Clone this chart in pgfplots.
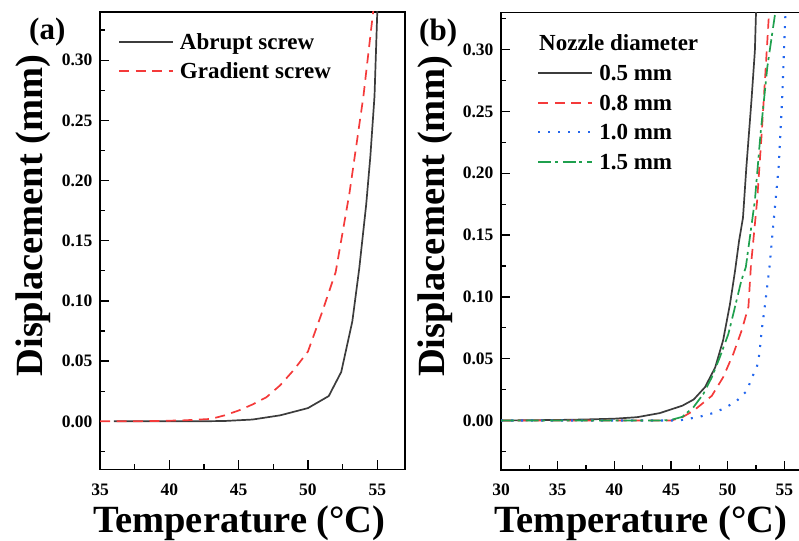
\documentclass[border=0pt]{standalone}
\usepackage{fontspec}
\setmainfont{Liberation Serif}
\usepackage{pgfplots}
\pgfplotsset{compat=1.18}
\definecolor{cblack}{HTML}{3C3C3C}
\definecolor{cred}{HTML}{F43A3A}
\definecolor{cblue}{HTML}{2266EE}
\definecolor{cgreen}{HTML}{1FA04E}

\pgfplotsset{
  myaxis/.style={
    scale only axis,
    height=457.5pt,
    ymin=-0.04,
    axis line style={line width=1.8pt},
    every tick/.style={black, line width=1.3pt},
    major tick length=9pt, minor tick length=5pt,
    tick align=inside, xtick pos=bottom, ytick pos=left,
    tick label style={font=\fontsize{17.5}{18}\selectfont\bfseries},
    /pgf/number format/assume math mode=true,
    ytick={0,0.05,0.10,0.15,0.20,0.25,0.30},
    minor ytick={-0.025,0.025,0.075,0.125,0.175,0.225,0.275,0.325},
    yticklabel style={/pgf/number format/fixed, /pgf/number format/fixed zerofill, /pgf/number format/precision=2, xshift=-4pt},
    xticklabel style={anchor=base, yshift=-25.5pt},
    xlabel={Temperature (°C)},
    ylabel={Displacement (mm)},
    every axis x label/.style={at={(axis description cs:0.457,0)}, anchor=base, yshift=-62.5pt, font=\fontsize{38.5}{40}\selectfont\bfseries},
    every axis y label/.style={at={(axis description cs:0,0.555)}, xshift=-57pt, rotate=90, anchor=base, font=\fontsize{38.5}{40}\selectfont\bfseries},
    legend image code/.code={\draw[#1] (0pt,2pt) -- (54pt,2pt);},
    legend style={draw=none, fill=none, inner sep=0pt, row sep=8.5pt,
      font=\fontsize{23}{24}\selectfont\bfseries,
      nodes={inner sep=0pt, text height=16pt, text depth=5pt},
      /tikz/every odd column/.style={column sep=6pt}},
    legend cell align=left,
  },
  sblack/.style={color=cblack, line width=1.7pt, solid},
  sred/.style={color=cred, line width=1.7pt, dash pattern=on 10pt off 6.5pt},
  sblue/.style={color=cblue, line width=2.1pt, dash pattern=on 2pt off 8pt},
  sgreen/.style={color=cgreen, line width=1.7pt, dash pattern=on 13pt off 3.5pt on 3pt off 5pt},
}

\pgfplotstableread{
x y
36 0
38 0
40 0
42 0
44 0.0003
46 0.0015
48 0.005
50 0.011
51.5 0.021
52.4 0.041
53.2 0.083
53.7 0.127
54.2 0.18
54.5 0.22
54.8 0.27
55.0 0.34
55.05 0.36
}\abrupt

\pgfplotstableread{
x y
35 0
37 0
39 0.0003
41 0.0008
43 0.002
44 0.005
45 0.009
46 0.014
47 0.020
48 0.030
49 0.043
50 0.058
51 0.090
52 0.124
53 0.19
54 0.27
54.7 0.34
54.8 0.355
}\gradient

\pgfplotstableread{
x y
30 0
32 0.0002
34 0.0004
36 0.0006
38 0.001
40 0.0015
42 0.0027
44 0.006
45 0.009
46 0.012
47 0.017
48 0.027
48.9 0.043
49.6 0.065
50.2 0.094
50.65 0.121
51.0 0.145
51.35 0.164
51.65 0.205
52.1 0.259
52.4 0.299
52.5 0.33
52.52 0.34
}\dA

\pgfplotstableread{
x y
30 0
35 0
40 0
45 0
46 0.0027
47 0.008
48.6 0.020
49.6 0.035
50.5 0.054
51.24 0.073
51.83 0.092
52.05 0.125
52.6 0.178
53.0 0.232
53.36 0.286
53.65 0.33
53.7 0.34
}\dB

\pgfplotstableread{
x y
30 0
35 0
40 0
45 0
46 0.0005
47.5 0.003
48.7 0.006
49.8 0.0103
50.8 0.016
51.7 0.024
52.1 0.034
52.57 0.043
52.8 0.054
53.0 0.073
53.3 0.094
53.7 0.125
53.95 0.151
54.5 0.205
54.8 0.259
55.1 0.33
55.15 0.34
}\dC

\pgfplotstableread{
x y
30 0
35 0
40 0
44 0
45 0.0005
46 0.003
47 0.011
47.86 0.0216
48.6 0.035
49.3 0.051
50.06 0.070
50.65 0.092
51.2 0.113
51.6 0.124
52.4 0.178
52.9 0.232
53.5 0.286
54.2 0.33
54.25 0.34
}\dD

\begin{document}
\bfseries
\begin{tikzpicture}[x=1pt,y=1pt]
\useasboundingbox (0,0) rectangle (799,540);

\begin{axis}[myaxis, at={(100pt,70.5pt)}, anchor=south west,
  width=305pt, xmin=35, xmax=57, ymax=0.34,
  xtick={35,40,45,50,55}, minor xtick={37.5,42.5,47.5,52.5},
  legend style={at={(0,1)}, anchor=north west, xshift=18pt, yshift=-21pt}]
\addplot[sblack] table[x=x,y=y] {\abrupt};
\addlegendentry{Abrupt screw}
\addplot[sred] table[x=x,y=y] {\gradient};
\addlegendentry{Gradient screw}
\end{axis}

\begin{axis}[myaxis, at={(501pt,70pt)}, anchor=south west,
  width=306pt, xmin=30, xmax=57, ymax=0.33,
  xtick={30,35,40,45,50,55}, minor xtick={32.5,37.5,42.5,47.5,52.5},
  legend style={at={(0,1)}, anchor=north west, xshift=36pt, yshift=-52pt}]
\addplot[sblack] table[x=x,y=y] {\dA};
\addlegendentry{0.5 mm}
\addplot[sred] table[x=x,y=y] {\dB};
\addlegendentry{0.8 mm}
\addplot[sblue] table[x=x,y=y] {\dC};
\addlegendentry{1.0 mm}
\addplot[sgreen] table[x=x,y=y] {\dD};
\addlegendentry{1.5 mm}
\node[anchor=base west, inner sep=0pt, font=\fontsize{23}{24}\selectfont\bfseries]
  at (rel axis cs:0,1) [xshift=38pt, yshift=-38.5pt] {Nozzle diameter};
\end{axis}

\node[anchor=base west, inner sep=0pt, font=\fontsize{31}{32}\selectfont\bfseries] at (29,500) {(a)};
\node[anchor=base west, inner sep=0pt, font=\fontsize{31}{32}\selectfont\bfseries] at (419,499) {(b)};
\end{tikzpicture}
\end{document}
